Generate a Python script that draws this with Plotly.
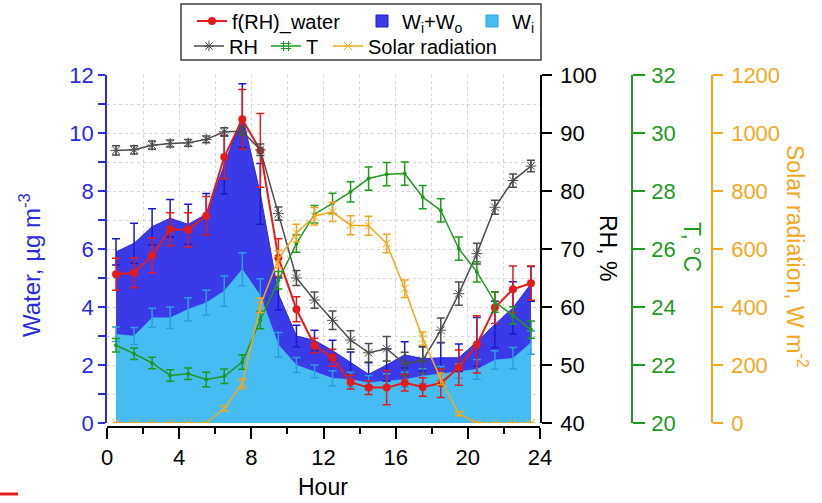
import plotly.graph_objects as go

# Hour of day (bin centres)
hours = [0.5, 1.5, 2.5, 3.5, 4.5, 5.5, 6.5, 7.5, 8.5, 9.5, 10.5, 11.5,
         12.5, 13.5, 14.5, 15.5, 16.5, 17.5, 18.5, 19.5, 20.5, 21.5, 22.5, 23.5]

# Aerosol water from f(RH), ug m-3
frh_water = [5.13, 5.18, 5.78, 6.68, 6.66, 7.15, 9.17, 10.47, 9.40, 5.70, 3.92, 2.67,
             2.25, 1.41, 1.22, 1.22, 1.39, 1.24, 1.37, 1.91, 2.71, 3.98, 4.61, 4.82]
frh_water_err = [0.55, 0.52, 0.60, 0.57, 0.59, 0.66, 0.75, 1.03, 1.27, 0.65, 0.43, 0.25,
                 0.29, 0.24, 0.24, 0.59, 0.29, 0.32, 0.49, 0.61, 0.99, 0.55, 0.80, 0.59]

# Inorganic + organic water, ug m-3
w_io = [5.90, 6.20, 6.77, 7.06, 6.85, 7.20, 8.90, 10.60, 7.90, 4.45, 3.00, 2.85,
        2.50, 2.10, 1.68, 2.00, 2.35, 2.22, 2.25, 2.25, 2.80, 3.40, 3.97, 4.80]
w_io_err = [0.45, 0.69, 0.62, 0.65, 0.69, 0.71, 1.00, 1.10, 1.05, 0.55, 0.37, 0.35,
            0.35, 0.35, 0.40, 0.55, 0.45, 0.43, 0.52, 0.47, 0.84, 0.80, 0.90, 0.60]

# Inorganic water, ug m-3
w_i = [3.06, 3.00, 3.63, 3.63, 3.92, 4.15, 4.55, 5.30, 4.40, 2.70, 2.00, 1.78,
       1.54, 1.50, 1.39, 1.45, 1.50, 1.62, 1.70, 1.79, 1.85, 2.17, 2.23, 2.77]
w_i_err = [0.25, 0.29, 0.33, 0.37, 0.40, 0.43, 0.52, 0.57, 0.57, 0.42, 0.26, 0.22,
           0.26, 0.25, 0.25, 0.25, 0.25, 0.25, 0.25, 0.25, 0.34, 0.32, 0.37, 0.40]

# Relative humidity, %
rh = [87.0, 87.1, 87.9, 88.2, 88.3, 88.9, 90.2, 90.3, 87.1, 76.1, 65.0, 61.2,
      57.7, 54.3, 52.1, 52.8, 50.2, 50.8, 56.0, 62.3, 69.2, 77.2, 81.8, 84.3]
rh_err = [0.8, 0.7, 0.7, 0.6, 0.6, 0.6, 0.7, 0.7, 1.0, 1.15, 1.3, 1.4,
          1.6, 1.6, 1.6, 2.1, 2.0, 2.3, 2.1, 2.0, 1.8, 1.2, 1.15, 1.0]

# Temperature, degC
temp = [22.68, 22.39, 22.07, 21.64, 21.70, 21.50, 21.61, 22.10, 23.55, 24.92, 26.19, 27.20,
        27.57, 27.97, 28.43, 28.58, 28.60, 27.79, 27.33, 26.01, 25.21, 24.17, 23.71, 23.22]
temp_err = [0.23, 0.20, 0.20, 0.20, 0.20, 0.25, 0.25, 0.25, 0.30, 0.30, 0.30, 0.30,
            0.35, 0.35, 0.40, 0.40, 0.40, 0.40, 0.40, 0.40, 0.35, 0.35, 0.30, 0.30]

# Solar radiation, W m-2
solar = [0, 0, 0, 0, 0, 0, 50, 136, 406, 565, 655, 713,
         728, 682, 680, 619, 463, 291, 152, 32, 0, 0, 0, 0]
solar_err = [0, 0, 0, 0, 0, 0, 8, 17, 25, 30, 30, 30,
             33, 33, 33, 32, 30, 23, 20, 6, 3, 0, 0, 0]

# Axis ticks
hour_ticks = [0, 4, 8, 12, 16, 20, 24]

BLUE_FILL = "#3a3ae8"
BLUE_BAR = "#1a1ac8"
BLUE_AXIS = "#2a2ae0"
CYAN_FILL = "#45bdf2"
CYAN_BAR = "#2a9fe0"
RED = "#e51b1b"
GRAY = "#4d4d4d"
GREEN = "#1e9a1e"
ORANGE = "#f2a81d"
GRID = "#d6d6d6"
FONT = "Liberation Sans, Arial, sans-serif"

# Page geometry (pixels) used to place decorations in paper coordinates
W, H = 822, 503
ML, MT, MB = 107, 75, 76
PW = W - ML          # paper width (right margin 0)
PH = H - MT - MB     # paper height


def px(x):
    return (x - ML) / PW


def py(y):
    return (H - MB - y) / PH


def err(arr, color, thick=1.5, width=4):
    return dict(type="data", array=arr, color=color, thickness=thick, width=width)


fig = go.Figure()

# Stacked water areas
fig.add_trace(go.Scatter(x=hours, y=w_io, mode="lines", fill="tozeroy",
                         fillcolor=BLUE_FILL, line=dict(color="#2d2dd8", width=1),
                         showlegend=False, hoverinfo="skip"))
fig.add_trace(go.Scatter(x=hours, y=w_i, mode="lines", fill="tozeroy",
                         fillcolor=CYAN_FILL, line=dict(color=CYAN_FILL, width=0.5),
                         showlegend=False, hoverinfo="skip"))
# Error bars of the areas, on top of both fills
fig.add_trace(go.Scatter(x=hours, y=w_io, mode="markers",
                         marker=dict(size=1, opacity=0),
                         error_y=err(w_io_err, BLUE_BAR), showlegend=False))
fig.add_trace(go.Scatter(x=hours, y=w_i, mode="markers",
                         marker=dict(size=1, opacity=0),
                         error_y=err(w_i_err, CYAN_BAR), showlegend=False))

# f(RH) water
fig.add_trace(go.Scatter(x=hours, y=frh_water, mode="lines+markers", name="f(RH)_water",
                         line=dict(color=RED, width=2),
                         marker=dict(size=8, color=RED),
                         error_y=err(frh_water_err, RED), legend="legend"))

# Legend swatches for the areas
fig.add_trace(go.Bar(x=[None], y=[None], name="W<sub>i</sub>+W<sub>o</sub>",
                     marker=dict(color=BLUE_FILL, line=dict(color="#2020c0", width=1)),
                     legend="legend2"))
fig.add_trace(go.Bar(x=[None], y=[None], name="W<sub>i</sub>",
                     marker=dict(color=CYAN_FILL, line=dict(color=CYAN_BAR, width=1)),
                     legend="legend3"))

# RH
fig.add_trace(go.Scatter(x=hours, y=rh, yaxis="y2", mode="lines+markers", name="RH",
                         line=dict(color=GRAY, width=1.5),
                         marker=dict(symbol="asterisk-open", size=9,
                                     line=dict(color=GRAY, width=1)),
                         error_y=err(rh_err, GRAY), legend="legend4"))

# Temperature
fig.add_trace(go.Scatter(x=hours, y=temp, yaxis="y3", mode="lines+markers",
                         line=dict(color=GREEN, width=1.5),
                         marker=dict(size=4, color=GREEN),
                         error_y=err(temp_err, GREEN), showlegend=False))
fig.add_trace(go.Scatter(x=[None], y=[None], yaxis="y3", mode="lines+markers", name="T",
                         line=dict(color=GREEN, width=1.5),
                         marker=dict(symbol="hash-open", size=10,
                                     line=dict(color=GREEN, width=1)),
                         legend="legend5"))

# Solar radiation
fig.add_trace(go.Scatter(x=hours, y=solar, yaxis="y4", mode="lines+markers",
                         name="Solar radiation",
                         line=dict(color=ORANGE, width=1.5),
                         marker=dict(symbol="x-thin-open", size=8,
                                     line=dict(color=ORANGE, width=1)),
                         error_y=err(solar_err, ORANGE), legend="legend6"))

tickfont = dict(family=FONT, size=22)


def leg(text_x, row_y):
    return dict(xref="container", yref="container", x=(text_x - 41) / W,
                y=1 - row_y / H, xanchor="left", yanchor="middle",
                orientation="h", bgcolor="rgba(0,0,0,0)", borderwidth=0,
                font=dict(family=FONT, size=20, color="black"))


x_end = px(540)

fig.update_layout(
    width=W, height=H,
    template="none",
    paper_bgcolor="white", plot_bgcolor="white",
    margin=dict(l=ML, r=0, t=MT, b=MB, pad=0),
    font=dict(family=FONT, size=20, color="black"),
    barmode="overlay",
    xaxis=dict(domain=[0, x_end], range=[0, 24], anchor="free", position=0,
               showline=True, linecolor="black", linewidth=1.5, mirror=False,
               ticks="outside", ticklen=11, tickwidth=1.5, tickcolor="black",
               tickmode="array", tickvals=hour_ticks,
               tickfont=dict(tickfont, color="black"),
               showgrid=True, gridcolor=GRID, griddash="dot", gridwidth=1,
               minor=dict(dtick=2, tick0=0, ticks="outside", ticklen=6, tickwidth=1.5,
                          tickcolor="black", showgrid=True, gridcolor=GRID,
                          griddash="dot", gridwidth=1),
               zeroline=False, automargin=False),
    yaxis=dict(domain=[py(423), 1], range=[0, 12], anchor="x", side="left",
               showline=True, linecolor=BLUE_AXIS, linewidth=1.5,
               ticks="outside", ticklen=7, tickwidth=1.5, tickcolor=BLUE_AXIS,
               dtick=2, tick0=0, tickfont=dict(tickfont, color=BLUE_AXIS),
               showgrid=True, gridcolor=GRID, griddash="dot", gridwidth=1,
               minor=dict(dtick=1, tick0=0, ticks="outside", ticklen=7, tickwidth=1.5,
                          tickcolor=BLUE_AXIS, showgrid=True, gridcolor=GRID,
                          griddash="dot", gridwidth=1),
               zeroline=False, automargin=False),
    yaxis2=dict(overlaying="y", anchor="x", side="right", range=[40, 100], dtick=10,
                showline=True, linecolor="black", linewidth=1.5,
                ticks="outside", ticklen=10, tickwidth=1.5, tickcolor="black",
                tickfont=dict(tickfont, color="black"), ticklabelstandoff=4,
                showgrid=False, zeroline=False, automargin=False),
    yaxis3=dict(overlaying="y", anchor="free", position=px(632), side="right",
                range=[20, 32], dtick=2,
                showline=True, linecolor=GREEN, linewidth=1.5,
                ticks="outside", ticklen=12, tickwidth=1.5, tickcolor=GREEN,
                tickfont=dict(tickfont, color=GREEN), ticklabelstandoff=2,
                showgrid=False, zeroline=False, automargin=False),
    yaxis4=dict(overlaying="y", anchor="free", position=px(712), side="right",
                range=[0, 1200], dtick=200,
                showline=True, linecolor=ORANGE, linewidth=1.5,
                ticks="outside", ticklen=10, tickwidth=1.5, tickcolor=ORANGE,
                tickfont=dict(tickfont, color=ORANGE), ticklabelstandoff=4,
                showgrid=False, zeroline=False, automargin=False),
    legend=leg(233, 21),
    legend2=leg(403, 21),
    legend3=leg(513, 21),
    legend4=leg(230, 46),
    legend5=leg(307, 46),
    legend6=leg(369, 46),
    showlegend=True,
)


def title(x, y, text, color, angle=0, size=23):
    fig.add_annotation(x=px(x), y=py(y), xref="paper", yref="paper", showarrow=False,
                       xanchor="center", yanchor="middle", text=text, textangle=angle,
                       font=dict(family=FONT, size=size, color=color))


title(30, 265, "Water, µg m<sup>-3</sup>", BLUE_AXIS, -90, 24)
title(323, 487, "Hour", "black")
title(608, 248, "RH, %", "black", 90)
title(692, 247, "T, °C", GREEN, 90)
title(797, 256, "Solar radiation, W m<sup>-2</sup>", ORANGE, 90)

# Legend frame
fig.add_shape(type="rect", xref="paper", yref="paper",
              x0=px(181), x1=px(541), y0=py(60), y1=py(4),
              line=dict(color="#404040", width=1.5), fillcolor="rgba(0,0,0,0)")
# Short red stroke at the lower-left corner
fig.add_shape(type="line", xref="paper", yref="paper",
              x0=px(0), x1=px(18), y0=py(494), y1=py(494),
              line=dict(color=RED, width=3))

fig.write_html("out.html")
